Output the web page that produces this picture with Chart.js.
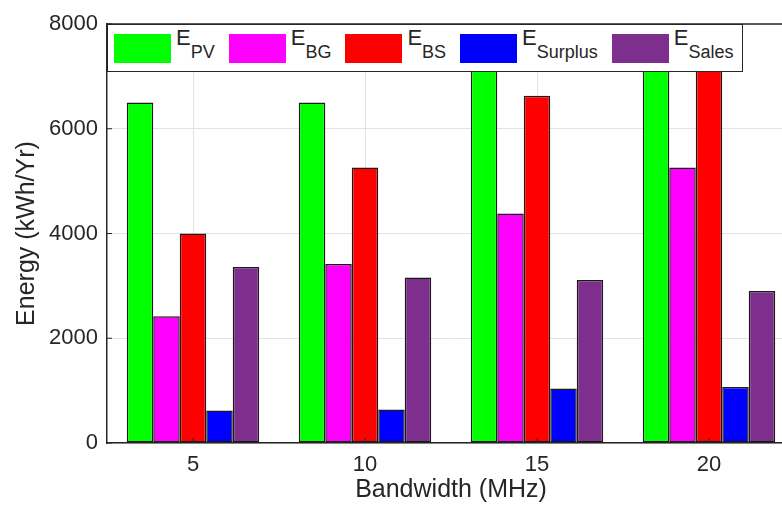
<!DOCTYPE html>
<html>
<head>
<meta charset="utf-8">
<script src="https://cdn.jsdelivr.net/npm/chart.js@4.4.1/dist/chart.umd.min.js"></script>
<style>
  html, body { margin: 0; padding: 0; background: #fff; overflow: hidden; }
  #wrap { position: absolute; left: 0; top: 0; width: 800px; height: 505px; }
  #legend {
    position: absolute; box-sizing: border-box; background: #fff;
    border: 1.5px solid #262626; display: flex; align-items: center;
    font-family: "Liberation Sans", Arial, sans-serif; color: #262626;
  }
  .item { display: flex; align-items: center; margin-left: 14px; }
  .item:first-child { margin-left: 6px; }
  .sw { width: 57px; height: 29px; margin-right: 5px; }
  .lbl { font-size: 22px; line-height: 1; position: relative; top: -4px; }
  .lbl sub { font-size: 18px; vertical-align: -13px; line-height: 1; }
</style>
</head>
<body>
<div id="wrap">
  <canvas id="chart"></canvas>
  <div id="legend"></div>
</div>
<script>
// data
const bandwidths = ['5', '10', '15', '20'];
const seriesNames = ['PV', 'BG', 'BS', 'Surplus', 'Sales'];
const ePV = [6500, 6500, 7800, 8400];
const eBG = [2420, 3420, 4380, 5260];
const eBS = [4000, 5260, 6630, 7700];
const eSurplus = [620, 640, 1040, 1070];
const eSales = [3360, 3160, 3110, 2900];
const yTicks = [0, 2000, 4000, 6000, 8000];

const colors = ['#00ff00', '#ff00ff', '#ff0000', '#0000ff', '#7e2f8e'];
const values = [ePV, eBG, eBS, eSurplus, eSales];
const textColor = '#262626';
const font = "'Liberation Sans', Arial, sans-serif";

// frame top line + inward ticks like the original plot box
const framePlugin = {
  id: 'frame',
  afterDraw(chart) {
    const { ctx, chartArea: a, scales } = chart;
    ctx.save();
    ctx.strokeStyle = textColor;
    ctx.lineWidth = 1.5;
    ctx.beginPath();
    ctx.moveTo(a.left, a.top);
    ctx.lineTo(a.right, a.top);
    ctx.lineTo(a.right, a.bottom);
    ctx.stroke();
    ctx.lineWidth = 1;
    ctx.beginPath();
    yTicks.forEach(v => {
      const y = scales.y.getPixelForValue(v);
      ctx.moveTo(a.left, y);
      ctx.lineTo(a.left + 5, y);
    });
    bandwidths.forEach((b, i) => {
      const x = scales.x.getPixelForValue(i);
      ctx.moveTo(x, a.bottom);
      ctx.lineTo(x, a.bottom - 5);
    });
    ctx.stroke();
    ctx.restore();
  }
};

const chart = new Chart(document.getElementById('chart'), {
  type: 'bar',
  data: {
    labels: bandwidths,
    datasets: seriesNames.map((n, i) => ({
      label: 'E' + n,
      data: values[i],
      backgroundColor: colors[i],
      borderColor: '#1a1a1a',
      borderWidth: 1.5,
      borderSkipped: false,
      categoryPercentage: 0.77,
      barPercentage: 1
    }))
  },
  options: {
    responsive: true,
    maintainAspectRatio: false,
    animation: false,
    layout: { padding: { top: 24, right: 5, left: 0, bottom: 0 } },
    plugins: {
      legend: { display: false },
      tooltip: { enabled: false }
    },
    scales: {
      x: {
        grid: { offset: false, color: '#e3e3e3', drawTicks: false },
        border: { color: textColor, width: 1.5 },
        ticks: { color: textColor, font: { family: font, size: 22 }, padding: 9 },
        title: {
          display: true, text: 'Bandwidth (MHz)', color: textColor,
          font: { family: font, size: 25 }, padding: { top: 0, bottom: 0 }
        },
        afterFit(scale) { scale.height = 62; }
      },
      y: {
        min: 0, max: 8000,
        afterBuildTicks(scale) { scale.ticks = yTicks.map(v => ({ value: v })); },
        grid: { color: '#e3e3e3', drawTicks: false },
        border: { color: textColor, width: 1.5 },
        ticks: {
          color: textColor, font: { family: font, size: 22 }, padding: 9,
          callback: v => String(v)
        },
        title: {
          display: true, text: 'Energy (kWh/Yr)', color: textColor,
          font: { family: font, size: 25 }, padding: { top: 12, bottom: 0 }
        },
        afterFit(scale) { scale.width = 107; }
      }
    }
  },
  plugins: [framePlugin]
});

// legend with subscripts, placed in the top of the plot area
const legend = document.getElementById('legend');
seriesNames.forEach((n, i) => {
  const item = document.createElement('div');
  item.className = 'item';
  item.innerHTML = '<div class="sw" style="background:' + colors[i] + '"></div>' +
    '<span class="lbl">E<sub>' + n + '</sub></span>';
  legend.appendChild(item);
});
const a = chart.chartArea;
legend.style.left = a.left + 'px';
legend.style.top = a.top + 'px';
legend.style.width = '636px';
legend.style.height = '48px';
</script>
</body>
</html>
